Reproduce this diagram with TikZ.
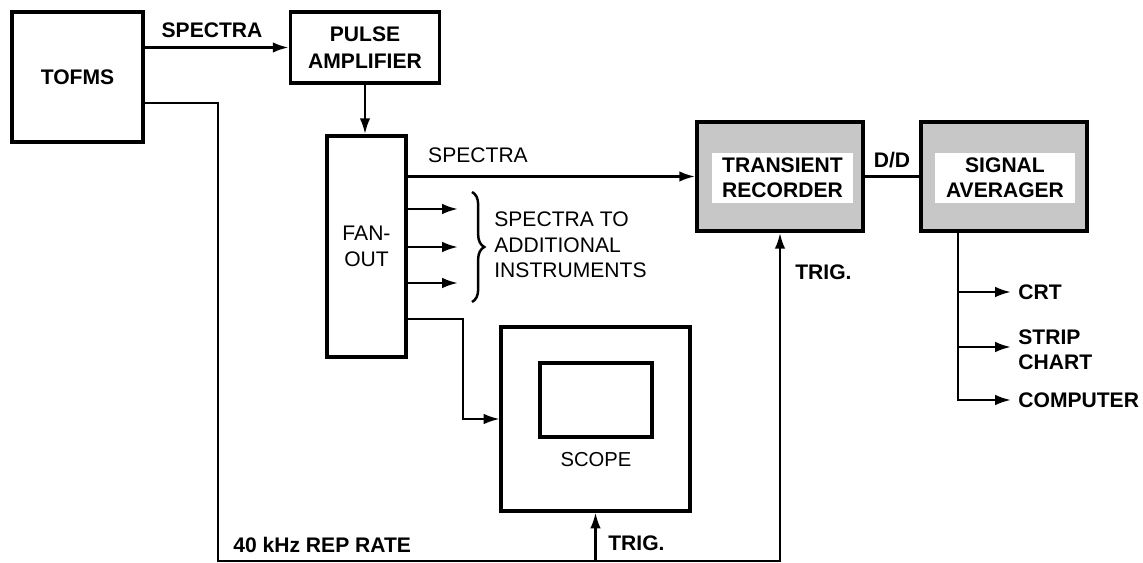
\documentclass[tikz,border=0pt]{standalone}
\usepackage{fontspec}
\setmainfont{Liberation Sans}
\usetikzlibrary{arrows.meta,decorations.pathreplacing}

\begin{document}
\begin{tikzpicture}[x=0.02cm,y=-0.02cm,
    box/.style={rectangle,draw,line width=2.2pt,inner sep=0pt,align=center,font=\bfseries\fontsize{12}{15}\selectfont},
    shadebox/.style={box,fill=black!22},
    txt/.style={inner sep=0pt,align=center,font=\bfseries\fontsize{12}{14.5}\selectfont},
    lite/.style={inner sep=0pt,align=left,font=\fontsize{12}{14.5}\selectfont},
    outlbl/.style={txt,align=left,anchor=west,inner sep=4pt},
    wire/.style={line width=1.4pt},
    sig/.style={wire,-{Latex[length=9pt,width=6pt]}}]

\useasboundingbox (0,0) rectangle (1143,563);

\node[box,minimum width=2.62cm,minimum height=2.6cm] (tofms) at (77.5,77) {TOFMS};
\node[box,minimum width=2.98cm,minimum height=1.42cm] (pulse) at (365,47.5) {PULSE\\AMPLIFIER};
\node[box,font=\fontsize{12}{15}\selectfont,minimum width=1.58cm,minimum height=4.42cm] (fan) at (366.5,246.5) {FAN-\\OUT};
\node[shadebox,minimum width=3.32cm,minimum height=2.18cm] (trans) at (780,176.5) {};
\node[txt,fill=white,minimum width=2.82cm,minimum height=1cm] (transtxt) at (782.5,178) {TRANSIENT\\RECORDER};
\node[shadebox,minimum width=3.32cm,minimum height=2.18cm] (avg) at (1004,176.5) {};
\node[txt,fill=white,minimum width=2.8cm,minimum height=1cm] (avgtxt) at (1005,178) {SIGNAL\\AVERAGER};
\node[box,line width=1.8pt,minimum width=3.78cm,minimum height=3.68cm] (scope) at (595.5,419) {};
\node[box,line width=1.8pt,minimum width=2.24cm,minimum height=1.48cm] (screen) at (596,400) {};
\node[lite,font=\fontsize{11.5}{14}\selectfont] (scopetxt) at (596,460) {SCOPE};

\draw[sig] (tofms.east |- pulse.west) -- (pulse.west);
\node[txt] (spec1) at (212,30) {SPECTRA};
\draw[sig] (pulse.south) -- (pulse.south |- fan.north);

\draw[sig] (fan.east |- trans.west) -- (trans.west);
\node[lite] (spec2) at (478,155) {SPECTRA};
\foreach \y [count=\i] in {209,247,283} {
  \coordinate (out\i) at (458,\y);
  \draw[sig] (fan.east |- out\i) -- (out\i);
}
\draw[wire,decorate,decoration={brace,amplitude=7pt}] (472,192) -- (472,302);
\node[lite,anchor=west] (extra) at (494,245) {SPECTRA TO\\ADDITIONAL\\INSTRUMENTS};

\coordinate (fanout) at (406,319);
\draw[sig,line width=1.1pt] (fanout) -- ++(57,0) |- (scope.west);

\coordinate (tap) at (143,103);
\coordinate (bus) at (218,561);
\draw[sig] (tap) -| (bus) -| (trans.south);
\draw[sig] (scope.south |- bus) -- (scope.south);
\node[txt,anchor=west] (rate) at (233,545) {40 kHz REP RATE};
\node[txt,anchor=west] (trig1) at (608,543) {TRIG.};
\node[txt,anchor=west] (trig2) at (795,272) {TRIG.};

\draw[wire] (trans.east) -- (avg.west);
\node[txt] (dd) at (892,160) {D/D};

\coordinate (drop) at (958,231);
\node[outlbl] (crt) at (1011,292) {CRT};
\node[outlbl] (strip) at (1011,350) {STRIP\\CHART};
\node[outlbl] (comp) at (1011,400) {COMPUTER};
\draw[sig] (drop) |- (comp);
\draw[sig] (drop |- crt) -- (crt);
\draw[sig] (drop |- 0,347) -- (crt.west |- 0,347);
\end{tikzpicture}
\end{document}
